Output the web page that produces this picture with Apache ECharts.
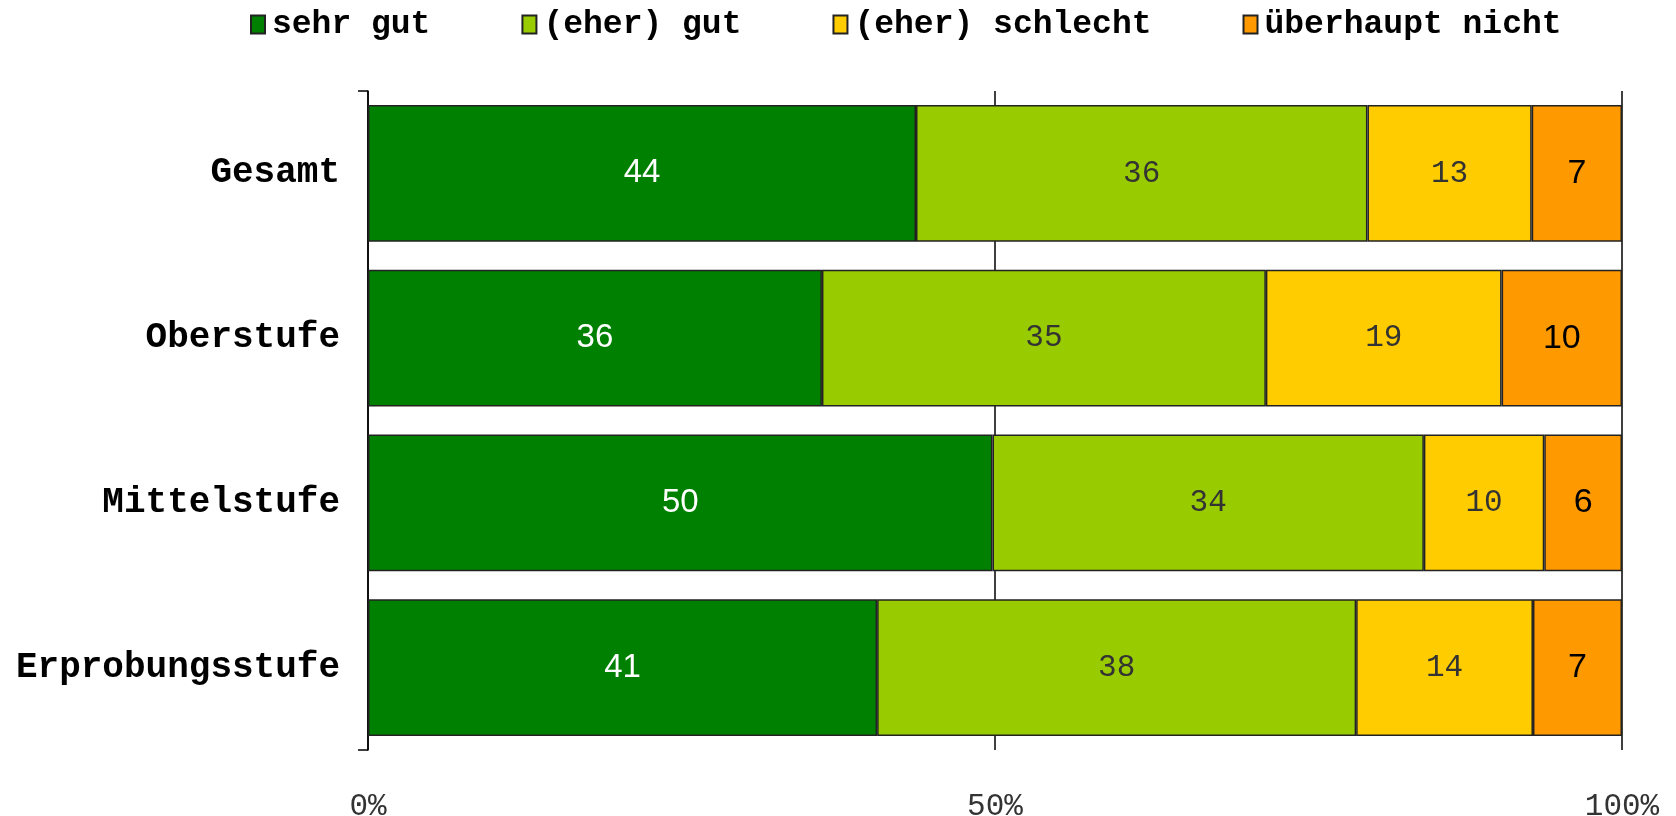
<!DOCTYPE html>
<html>
<head>
<meta charset="utf-8">
<script src="https://cdn.jsdelivr.net/npm/echarts@6/dist/echarts.min.js"></script>
<style>
  html, body { margin: 0; padding: 0; background: #fff; }
  #chart { width: 1676px; height: 816px; }
</style>
</head>
<body>
<div id="chart"></div>
<script>
// Kategorien (von oben nach unten)
var categories = ['Gesamt', 'Oberstufe', 'Mittelstufe', 'Erprobungsstufe']
// Anteile in Prozent
var sehrGut = [43.7, 36.2, 49.8, 40.6]
var eherGut = [36.0, 35.4, 34.4, 38.2]
var eherSchlecht = [13.1, 18.8, 9.6, 14.1]
var ueberhauptNicht = [7.2, 9.6, 6.2, 7.1]
var seriesNames = ['sehr gut', '(eher) gut', '(eher) schlecht', 'überhaupt nicht']
var xTicks = [0, 50, 100]

var mono = '"Liberation Mono", "Courier New", monospace'
var sans = '"Liberation Sans", Arial, sans-serif'

function makeSeries(name, data, color, label) {
  return {
    name: name,
    type: 'bar',
    stack: 'total',
    barCategoryGap: '17%',
    data: data,
    itemStyle: { color: color, borderColor: '#222', borderWidth: 1.5 },
    label: Object.assign({
      show: true,
      position: 'inside',
      formatter: function (p) { return Math.round(p.value) }
    }, label)
  }
}

var chart = echarts.init(document.getElementById('chart'))
chart.setOption({
  animation: false,
  legend: {
    left: 245,
    top: 3,
    icon: 'rect',
    itemWidth: 14,
    itemHeight: 18,
    itemGap: 91,
    textStyle: { fontFamily: mono, fontWeight: 'bold', fontSize: 33, color: '#000', padding: [0, 0, 0, 2] },
    data: seriesNames
  },
  grid: { left: 368, right: 54, top: 91, bottom: 66, outerBoundsMode: 'none' },
  xAxis: {
    type: 'value',
    min: xTicks[0],
    max: xTicks[xTicks.length - 1],
    interval: 50,
    axisLine: { show: false },
    axisTick: { show: false },
    splitLine: { show: true, lineStyle: { color: '#000', width: 1.5 } },
    axisLabel: { formatter: '{value}%', fontFamily: mono, fontSize: 31, color: '#333', margin: 41 }
  },
  yAxis: [
    {
      type: 'category',
      inverse: true,
      data: categories,
      axisLine: { show: true, lineStyle: { color: '#000', width: 1.5 } },
      axisTick: { show: false },
      axisLabel: { fontFamily: mono, fontWeight: 'bold', fontSize: 36, color: '#000', margin: 28 }
    },
    {
      // nur fuer die Striche oben und unten an der Achse
      type: 'value',
      position: 'left',
      min: 0,
      max: 1,
      interval: 1,
      axisLine: { show: false },
      axisTick: { show: true, length: 10, lineStyle: { color: '#000', width: 1.5 } },
      axisLabel: { show: false },
      splitLine: { show: false }
    }
  ],
  series: [
    makeSeries(seriesNames[0], sehrGut, '#008000', { color: '#fff', fontFamily: sans, fontSize: 33 }),
    makeSeries(seriesNames[1], eherGut, '#99cc00', { color: '#333', fontFamily: mono, fontSize: 31 }),
    makeSeries(seriesNames[2], eherSchlecht, '#ffcc00', { color: '#333', fontFamily: mono, fontSize: 31 }),
    makeSeries(seriesNames[3], ueberhauptNicht, '#ff9900', { color: '#000', fontFamily: sans, fontSize: 34 })
  ]
})
</script>
</body>
</html>
